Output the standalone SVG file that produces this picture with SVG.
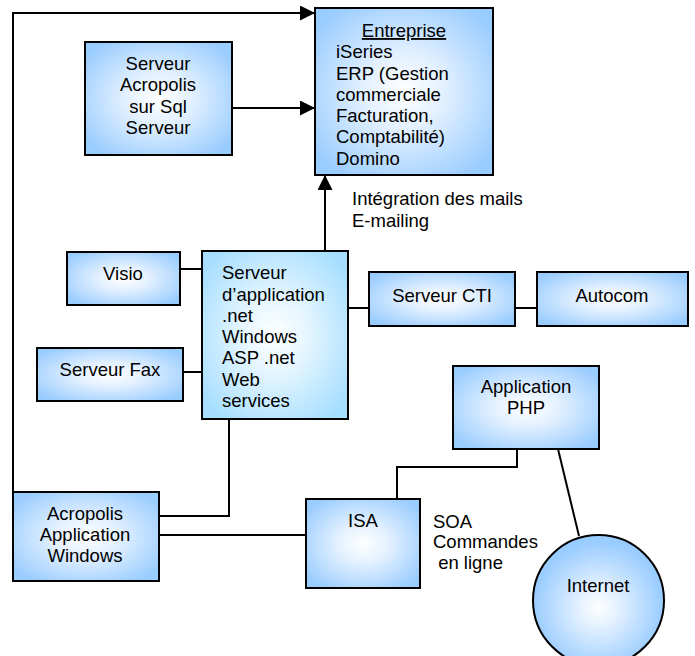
<svg xmlns="http://www.w3.org/2000/svg" width="695" height="656" viewBox="0 0 695 656">
<defs>
<radialGradient id="gb" cx="0.5" cy="0.5" r="0.62">
<stop offset="0" stop-color="#ffffff"/>
<stop offset="0.35" stop-color="#e4f1ff"/>
<stop offset="1" stop-color="#99ccff"/>
</radialGradient>
<radialGradient id="gc" cx="0.5" cy="0.5" r="0.62">
<stop offset="0" stop-color="#ffffff"/>
<stop offset="0.35" stop-color="#e6f6ff"/>
<stop offset="1" stop-color="#a6deff"/>
</radialGradient>
<radialGradient id="gi" cx="0.5" cy="0.55" r="0.5">
<stop offset="0" stop-color="#ffffff"/>
<stop offset="0.3" stop-color="#e4f1ff"/>
<stop offset="1" stop-color="#99ccff"/>
</radialGradient>
<marker id="ah" viewBox="0 0 10 10" refX="10" refY="5" markerWidth="15" markerHeight="15" markerUnits="userSpaceOnUse" orient="auto">
<path d="M0,0 L10,5 L0,10 Z" fill="#000"/>
</marker>
<style>
.box{fill:url(#gb);stroke:#000;stroke-width:2}
.boxc{fill:url(#gc);stroke:#000;stroke-width:2}
.t{font-family:"Liberation Sans",Arial,sans-serif;font-size:18.5px;fill:#000}
.m{text-anchor:middle}
.c{fill:none;stroke:#000;stroke-width:2}
</style>
</defs>
<g id="connectors">
<path class="c" d="M13,492 L13,13 L315,13" marker-end="url(#ah)"/>
<path class="c" d="M232,108 L315,108" marker-end="url(#ah)"/>
<path class="c" d="M325,251 L325,175" marker-end="url(#ah)"/>
<path class="c" d="M180,269 L202,269"/>
<path class="c" d="M183,372 L202,372"/>
<path class="c" d="M348,308 L369,308"/>
<path class="c" d="M515,308 L537,308"/>
<path class="c" d="M229,419 L229,516 L159,516"/>
<path class="c" d="M159,535 L306,535"/>
<path class="c" d="M517,449 L517,467 L397,467 L397,499"/>
<path class="c" d="M558,449 L579,536"/>
</g>
<g id="entreprise">
<rect class="box" x="315" y="8" width="178" height="167"/>
<text class="t m" x="404" y="37" text-decoration="underline">Entreprise</text>
<text class="t" x="336" y="58">iSeries</text>
<text class="t" x="336" y="80">ERP (Gestion</text>
<text class="t" x="336" y="101">commerciale</text>
<text class="t" x="336" y="122">Facturation,</text>
<text class="t" x="336" y="143">Comptabilité)</text>
<text class="t" x="336" y="165">Domino</text>
</g>
<g id="serveur-acropolis">
<rect class="box" x="85" y="42" width="147" height="113"/>
<text class="t m" x="158" y="70">Serveur</text>
<text class="t m" x="158" y="91">Acropolis</text>
<text class="t m" x="158" y="113">sur Sql</text>
<text class="t m" x="158" y="134">Serveur</text>
</g>
<g id="label-integration">
<text class="t" x="352" y="205">Intégration des mails</text>
<text class="t" x="352" y="227">E-mailing</text>
</g>
<g id="visio">
<rect class="box" x="67" y="252" width="113" height="53"/>
<text class="t m" x="123" y="280">Visio</text>
</g>
<g id="serveur-application">
<rect class="boxc" x="202" y="251" width="146" height="168"/>
<text class="t" x="222" y="279">Serveur</text>
<text class="t" x="222" y="301">d’application</text>
<text class="t" x="222" y="322">.net</text>
<text class="t" x="222" y="343">Windows</text>
<text class="t" x="222" y="364">ASP .net</text>
<text class="t" x="222" y="386">Web</text>
<text class="t" x="222" y="407">services</text>
</g>
<g id="serveur-fax">
<rect class="box" x="37" y="348" width="146" height="53"/>
<text class="t m" x="110" y="376">Serveur Fax</text>
</g>
<g id="serveur-cti">
<rect class="box" x="369" y="272" width="146" height="54"/>
<text class="t m" x="442" y="302">Serveur CTI</text>
</g>
<g id="autocom">
<rect class="box" x="537" y="272" width="151" height="54"/>
<text class="t m" x="612" y="302">Autocom</text>
</g>
<g id="application-php">
<rect class="box" x="453" y="366" width="146" height="83"/>
<text class="t m" x="526" y="393">Application</text>
<text class="t m" x="526" y="414">PHP</text>
</g>
<g id="acropolis-application">
<rect class="box" x="13" y="492" width="146" height="89"/>
<text class="t m" x="85" y="520">Acropolis</text>
<text class="t m" x="85" y="541">Application</text>
<text class="t m" x="85" y="562">Windows</text>
</g>
<g id="isa">
<rect class="box" x="306" y="499" width="114" height="89"/>
<text class="t m" x="363" y="527">ISA</text>
</g>
<g id="label-soa">
<text class="t" x="433" y="528">SOA</text>
<text class="t" x="433" y="548">Commandes</text>
<text class="t" x="433" y="569" xml:space="preserve"> en ligne</text>
</g>
<g id="internet">
<circle cx="598.5" cy="600.5" r="65.5" fill="url(#gi)" stroke="#000" stroke-width="2"/>
<text class="t m" x="598" y="592">Internet</text>
</g>
</svg>
